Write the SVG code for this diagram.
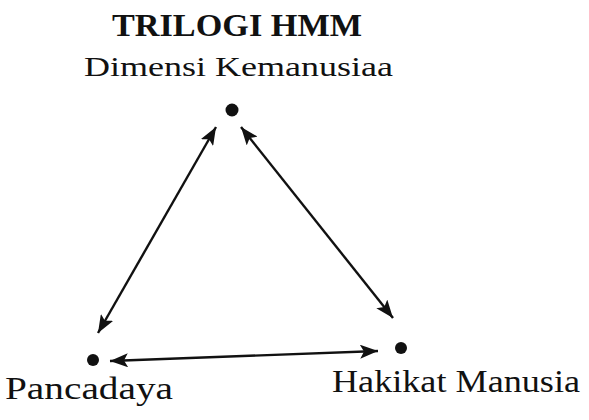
<svg xmlns="http://www.w3.org/2000/svg" width="589" height="420" viewBox="0 0 589 420">
<defs>
<marker id="ah" viewBox="0 0 18 14" refX="18" refY="7" markerWidth="18" markerHeight="14" markerUnits="userSpaceOnUse" orient="auto-start-reverse">
<path d="M0,0 L18,7 L0,14 L4,7 Z" fill="#111"/>
</marker>
</defs>
<style>
.t{font-family:"Liberation Serif","Times New Roman",serif;fill:#111}
.c{stroke:#111;stroke-width:2.4;fill:none;marker-start:url(#ah);marker-end:url(#ah)}
.d{fill:#111}
</style>
<rect width="589" height="420" fill="#fff"/>
<g id="title">
<text class="t" x="112" y="36" font-size="31" font-weight="bold" textLength="250" lengthAdjust="spacingAndGlyphs">TRILOGI HMM</text>
</g>
<g id="node-top">
<text class="t" x="84" y="76" font-size="28" textLength="309" lengthAdjust="spacingAndGlyphs">Dimensi Kemanusiaa</text>
<circle class="d" cx="232" cy="110" r="6.5"/>
</g>
<g id="node-left">
<circle class="d" cx="93" cy="360" r="6"/>
<text class="t" x="5" y="399" font-size="31" textLength="168" lengthAdjust="spacingAndGlyphs">Pancadaya</text>
</g>
<g id="node-right">
<circle class="d" cx="401" cy="348" r="6"/>
<text class="t" x="332" y="392" font-size="32" textLength="248" lengthAdjust="spacingAndGlyphs">Hakikat Manusia</text>
</g>
<g id="connectors">
<line class="c" x1="216" y1="127" x2="98" y2="333"/>
<line class="c" x1="241" y1="127" x2="393" y2="318"/>
<line class="c" x1="110" y1="361" x2="378" y2="351"/>
</g>
</svg>
